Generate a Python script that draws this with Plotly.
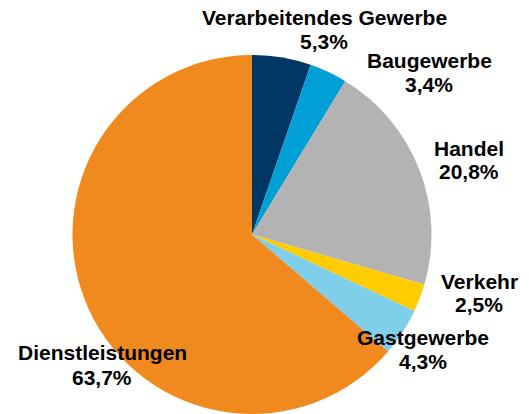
import plotly.graph_objects as go

labels = ["Verarbeitendes Gewerbe", "Baugewerbe", "Handel", "Verkehr", "Gastgewerbe", "Dienstleistungen"]
values = [5.3, 3.4, 20.8, 2.5, 4.3, 63.7]
colors = ["#003764", "#00A0D6", "#B3B3B3", "#FFCC00", "#7FCEEA", "#F0891E"]

# label anchor positions (pixels in the 529x414 canvas): x centre, y of first line, y of second line
label_pos = [(324, 18, 41), (429, 61, 84), (469, 148, 171), (479, 281, 304), (423, 337, 361), (102, 352, 377)]

W, H = 529, 414

fig = go.Figure(go.Pie(
    labels=labels, values=values, sort=False, direction="clockwise", rotation=0,
    marker=dict(colors=colors, line=dict(width=0)),
    textinfo="none", hoverinfo="label+percent",
    domain=dict(x=[72 / W, 432 / W], y=[0, 359 / H]),
    showlegend=False,
))

font = dict(family="Liberation Sans, Arial, sans-serif", size=21, color="#000000")
annotations = []
for lab, val, (px, py1, py2) in zip(labels, values, label_pos):
    pct = f"{val:.1f}".replace(".", ",") + "%"
    for txt, py in ((lab, py1), (pct, py2)):
        annotations.append(dict(
            x=px / W, y=1 - py / H, xref="paper", yref="paper",
            text=f"<b>{txt}</b>", showarrow=False, font=font,
            xanchor="center", yanchor="middle", align="center",
        ))

fig.update_layout(
    width=W, height=H, margin=dict(l=0, r=0, t=0, b=0),
    paper_bgcolor="white", plot_bgcolor="white",
    annotations=annotations,
)

fig.write_html("out.html", config={"displayModeBar": False},
               post_script="document.body.style.margin='0';")
